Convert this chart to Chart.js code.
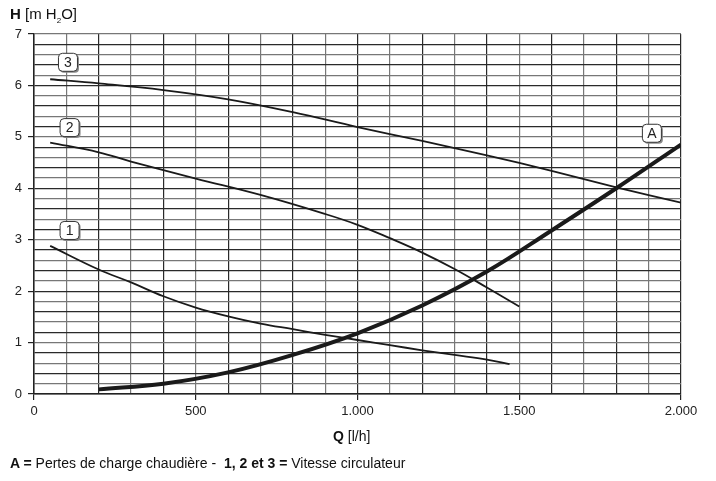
<!DOCTYPE html>
<html>
<head>
<meta charset="utf-8">
<script src="https://cdn.jsdelivr.net/npm/chart.js@4.4.1/dist/chart.umd.min.js"></script>
<style>
  html, body { margin: 0; padding: 0; background: #fff; }
  #wrap { position: relative; width: 716px; height: 481px; }
  .txt { position: absolute; font-family: "Liberation Sans", Arial, sans-serif; color: #111; white-space: nowrap; }
</style>
</head>
<body>
<div id="wrap">
  <canvas id="pump-chart" width="716" height="481"></canvas>
  <div class="txt" style="left:10px; top:5px; font-size:15px;"><b>H</b> [m H<sub style="font-size:8px">2</sub>O]</div>
  <div class="txt" style="left:333px; top:428px; font-size:14px;"><b>Q</b> [l/h]</div>
  <div class="txt" style="left:10px; top:455px; font-size:14px;"><b>A =</b> Pertes de charge chaudière -&nbsp; <b>1, 2 et 3 =</b> Vitesse circulateur</div>
</div>
<script>
// pump curves (Q in l/h, H in m H2O)
var speed1Q = [50, 200, 300, 400, 500, 600, 700, 800, 900, 1000, 1100, 1200, 1300, 1400, 1470];
var speed1H = [2.88, 2.42, 2.17, 1.90, 1.68, 1.51, 1.37, 1.26, 1.15, 1.05, 0.95, 0.85, 0.76, 0.67, 0.58];

var speed2Q = [50, 200, 300, 500, 700, 900, 1000, 1100, 1200, 1300, 1400, 1500];
var speed2H = [4.89, 4.70, 4.52, 4.19, 3.87, 3.50, 3.29, 3.03, 2.75, 2.43, 2.07, 1.70];

var speed3Q = [50, 200, 400, 600, 800, 1000, 1200, 1400, 1600, 1800, 2000];
var speed3H = [6.12, 6.04, 5.91, 5.73, 5.48, 5.19, 4.92, 4.64, 4.34, 4.02, 3.72];

// boiler pressure loss
var lossQ = [200, 400, 600, 800, 1000, 1200, 1400, 1600, 1800, 2000];
var lossH = [0.09, 0.20, 0.42, 0.76, 1.18, 1.72, 2.38, 3.18, 4.00, 4.85];

var curveTags = ['1', '2', '3', 'A'];
var tagQ = [110, 110, 105, 1910];
var tagH = [3.18, 5.18, 6.45, 5.07];

function toPoints(xs, ys) {
  return xs.map(function (x, i) { return { x: x, y: ys[i] }; });
}

function fmtThousands(v) {
  return String(v).replace(/\B(?=(\d{3})+(?!\d))/g, '.');
}

function lineSet(xs, ys, w) {
  return {
    data: toPoints(xs, ys),
    borderColor: '#1a1a1a',
    borderWidth: w,
    pointRadius: 0,
    fill: false,
    tension: 0.4
  };
}

// little rounded boxes with the curve names
var tagPlugin = {
  id: 'tags',
  afterDatasetsDraw: function (chart) {
    var ctx = chart.ctx, xs = chart.scales.x, ys = chart.scales.y;
    ctx.save();
    ctx.font = '14px "Liberation Sans", Arial, sans-serif';
    ctx.textAlign = 'center';
    ctx.textBaseline = 'middle';
    for (var i = 0; i < curveTags.length; i++) {
      var cx = xs.getPixelForValue(tagQ[i]);
      var cy = ys.getPixelForValue(tagH[i]);
      var w = 19, h = 18;
      ctx.fillStyle = '#8a8a8a';
      ctx.beginPath();
      ctx.roundRect(cx - w / 2 + 1.5, cy - h / 2 + 1.5, w, h, 4);
      ctx.fill();
      ctx.fillStyle = '#fff';
      ctx.strokeStyle = '#333';
      ctx.lineWidth = 1;
      ctx.beginPath();
      ctx.roundRect(cx - w / 2, cy - h / 2, w, h, 4);
      ctx.fill();
      ctx.stroke();
      ctx.fillStyle = '#222';
      ctx.fillText(curveTags[i], cx, cy + 1);
    }
    ctx.restore();
  }
};

var ctx = document.getElementById('pump-chart').getContext('2d');
new Chart(ctx, {
  type: 'line',
  data: {
    datasets: [
      lineSet(speed1Q, speed1H, 1.8),
      lineSet(speed2Q, speed2H, 1.8),
      lineSet(speed3Q, speed3H, 1.8),
      lineSet(lossQ, lossH, 4)
    ]
  },
  options: {
    responsive: false,
    animation: false,
    layout: { padding: { top: 34, right: 35, left: 0, bottom: 0 } },
    plugins: { legend: { display: false }, tooltip: { enabled: false } },
    scales: {
      x: {
        type: 'linear',
        min: 0, max: 2000,
        afterFit: function (s) { s.height = 87; },
        border: { color: '#222', width: 1.5 },
        grid: {
          color: function (c) { return c.index % 2 === 0 ? '#2a2a2a' : '#777'; },
          lineWidth: 1.2,
          tickLength: 6,
          tickColor: function (c) { return c.tick && c.tick.value % 500 === 0 ? '#222' : 'rgba(0,0,0,0)'; }
        },
        ticks: {
          stepSize: 100,
          autoSkip: false,
          maxRotation: 0,
          padding: 4,
          color: '#222',
          font: { family: '"Liberation Sans", Arial, sans-serif', size: 13 },
          callback: function (v) { return v % 500 === 0 ? fmtThousands(v) : ''; }
        }
      },
      y: {
        type: 'linear',
        min: 0, max: 7,
        afterFit: function (s) { s.width = 34; },
        border: { color: '#222', width: 1.5 },
        grid: {
          color: function (c) { return c.index % 2 === 0 ? '#2a2a2a' : '#777'; },
          lineWidth: 1.2,
          tickLength: 6,
          tickColor: function (c) { return c.tick && Math.abs(c.tick.value - Math.round(c.tick.value)) < 0.01 ? '#222' : 'rgba(0,0,0,0)'; }
        },
        ticks: {
          stepSize: 0.2,
          autoSkip: false,
          padding: 6,
          color: '#222',
          font: { family: '"Liberation Sans", Arial, sans-serif', size: 13 },
          callback: function (v) { return Math.abs(v - Math.round(v)) < 0.01 ? String(Math.round(v)) : ''; }
        }
      }
    }
  },
  plugins: [tagPlugin]
});
</script>
</body>
</html>
